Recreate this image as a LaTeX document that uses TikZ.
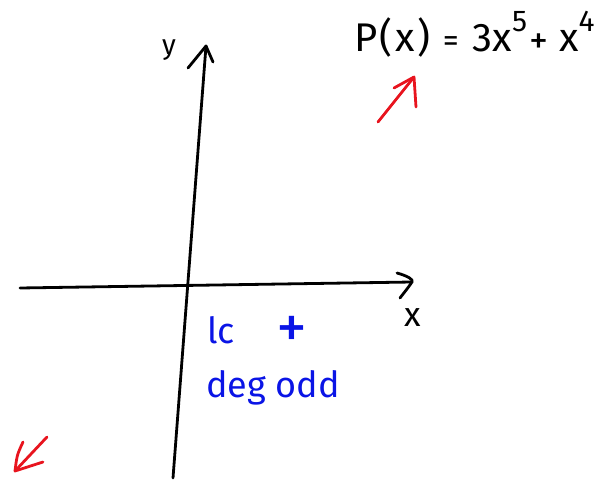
\documentclass[tikz,border=0pt]{standalone}
\usepackage{fontspec}
\setmainfont{Fira Sans}
\definecolor{penred}{HTML}{E8141E}
\definecolor{penblue}{HTML}{0A14E6}
\begin{document}
\begin{tikzpicture}[x=1pt,y=-1pt,
  ink/.style={line width=2.8pt,line cap=round,line join=round},
  redink/.style={ink,draw=penred},
  lbl/.style={inner sep=0pt,font=\fontsize{30}{30}\selectfont},
  bluelbl/.style={lbl,text=penblue,anchor=base west,font=\fontsize{36}{36}\selectfont},
  ]
\useasboundingbox (0,0) rectangle (608,481);
% x axis
\coordinate (xs) at (20,288);
\coordinate (xe) at (412,282);
\coordinate (xb1) at (397,273);
\coordinate (xb2) at (400,298);
\draw[ink] (xs) -- (xe);
\draw[ink] (xb1) .. controls (408,276) and (414,280) .. (xe) .. controls (408,288) and (403,294) .. (xb2);
% y axis
\coordinate (ys) at (173,478);
\coordinate (ye) at (206,46);
\coordinate (yb1) at (188,68);
\coordinate (yb2) at (213,62);
\draw[ink] (ys) -- (ye);
\draw[ink] (yb1) -- (ye) -- (yb2);
% labels
\node[lbl,font=\fontsize{28}{28}\selectfont] (ylab) at (169,50) {y};
\node[lbl,font=\fontsize{34}{34}\selectfont] (xlab) at (413,318) {x};
\node[lbl,anchor=base west,font=\fontsize{40}{40}\selectfont] (poly) at (354,52)
  {P\kern2pt(\kern3pt x\kern3pt)\kern12pt{\fontsize{32}{32}\selectfont =}\kern14pt 3x\raisebox{0.5em}{\fontsize{30}{30}\selectfont 5}\kern2pt\raisebox{-0.05em}{\fontsize{38}{38}\selectfont +}\kern11pt x\raisebox{0.5em}{\fontsize{30}{30}\selectfont 4}};
% blue notes
\node[bluelbl] (lc) at (207,343) {lc\kern42pt\raisebox{-0.14em}{\fontsize{62}{62}\selectfont +}};
\node[bluelbl] (deg) at (206,397) {deg odd};
% red arrows
\coordinate (ra1s) at (378,122);
\coordinate (ra1e) at (414,77);
\coordinate (ra1b1) at (394,88);
\coordinate (ra1b2) at (416,107);
\draw[redink] (ra1s) -- (ra1e);
\draw[redink] (ra1b1) -- (ra1e) -- (ra1b2);
\coordinate (ra2s) at (47,437);
\coordinate (ra2e) at (15,471);
\coordinate (ra2b1) at (23,442);
\coordinate (ra2b2) at (43,462);
\draw[redink] (ra2s) -- (ra2e);
\draw[redink] (ra2b1) .. controls (17,455) .. (ra2e) -- (ra2b2);
\end{tikzpicture}
\end{document}
